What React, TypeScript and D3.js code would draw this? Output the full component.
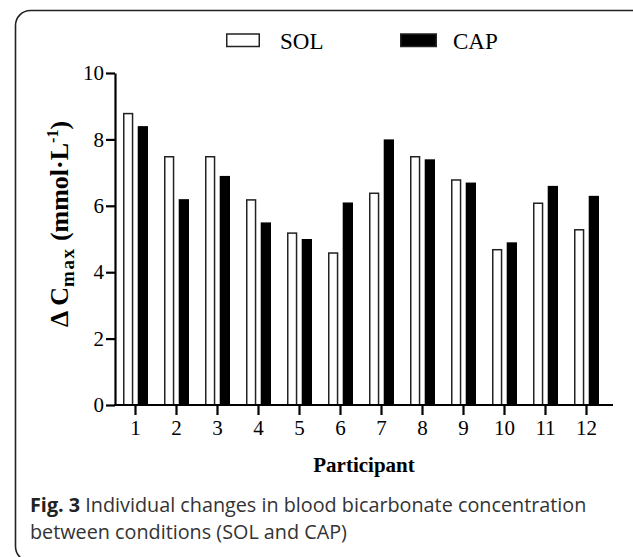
import { useEffect, useRef } from "react";
import * as d3 from "d3";

const participants = ["1", "2", "3", "4", "5", "6", "7", "8", "9", "10", "11", "12"];
const solValues = [8.8, 7.5, 7.5, 6.2, 5.2, 4.6, 6.4, 7.5, 6.8, 4.7, 6.1, 5.3];
const capValues = [8.4, 6.2, 6.9, 5.5, 5.0, 6.1, 8.0, 7.4, 6.7, 4.9, 6.6, 6.3];
const seriesNames = ["SOL", "CAP"];
const yTicks = [0, 2, 4, 6, 8, 10];

const serif = "'Liberation Serif', 'Times New Roman', serif";
const sans = "'Open Sans', 'Noto Sans', sans-serif";

export default function App() {
  const ref = useRef<SVGSVGElement>(null);

  useEffect(() => {
    const svg = d3.select(ref.current!);
    svg.selectAll("*").remove();

    const w = 633,
      h = 557,
      m = { top: 73, right: 26, bottom: 152, left: 115 };

    // frame
    svg
      .append("rect")
      .attr("x", 15.5)
      .attr("y", 10.5)
      .attr("width", 650)
      .attr("height", 551)
      .attr("rx", 15)
      .attr("fill", "#fff")
      .attr("stroke", "#222")
      .attr("stroke-width", 1.6);

    const x = d3
      .scaleBand<string>()
      .domain(participants)
      .range([m.left, m.left + 41 * 12])
      .padding(0);

    const sub = d3.scaleBand<string>().domain(seriesNames).range([8, 33]).paddingInner(0.3);

    const y = d3.scaleLinear().domain([0, 10]).range([h - m.bottom, m.top]);

    /* ── BARS ─────────────────────────────── */
    const g = svg.append("g");
    participants.forEach((p, i) => {
      const vals = [solValues[i], capValues[i]];
      seriesNames.forEach((s, j) => {
        const x0 = x(p)! + sub(s)!;
        const top = y(vals[j]);
        g.append("rect")
          .attr("x", x0 + (j === 0 ? 0.75 : 0))
          .attr("y", top + (j === 0 ? 0.75 : 0))
          .attr("width", sub.bandwidth() - (j === 0 ? 1.5 : 0))
          .attr("height", y(0) - top - (j === 0 ? 0.75 : 0))
          .attr("fill", j === 0 ? "#fff" : "#000")
          .attr("stroke", j === 0 ? "#222" : "none")
          .attr("stroke-width", 1.5);
      });
    });

    /* ── AXES ─────────────────────────────── */
    const yAxis = svg
      .append("g")
      .attr("transform", `translate(${m.left},0)`)
      .call(d3.axisLeft(y).tickValues(yTicks).tickSize(9).tickSizeOuter(0).tickPadding(2));
    yAxis.select(".domain").attr("stroke-width", 2.2);
    yAxis.selectAll(".tick line").attr("stroke-width", 2.2);
    yAxis
      .selectAll(".tick text")
      .attr("font-family", serif)
      .attr("font-size", 21)
      .attr("fill", "#000");

    const xAxis = svg
      .append("g")
      .attr("transform", `translate(0,${y(0)})`)
      .call(d3.axisBottom(x).tickSize(10).tickSizeOuter(0).tickPadding(5));
    xAxis.select(".domain").remove();
    xAxis.selectAll(".tick line").attr("stroke-width", 2.2);
    xAxis
      .selectAll(".tick text")
      .attr("font-family", serif)
      .attr("font-size", 21)
      .attr("fill", "#000");
    xAxis
      .append("line")
      .attr("x1", m.left - 1)
      .attr("x2", 613)
      .attr("stroke", "#000")
      .attr("stroke-width", 2.2);

    // x title
    svg
      .append("text")
      .attr("x", (m.left + 613) / 2)
      .attr("y", 472)
      .attr("text-anchor", "middle")
      .attr("font-family", serif)
      .attr("font-weight", "bold")
      .attr("font-size", 21)
      .text("Participant");

    // y title
    const yt = svg
      .append("text")
      .attr("transform", `translate(68,224) rotate(-90)`)
      .attr("text-anchor", "middle")
      .attr("font-family", serif)
      .attr("font-weight", "bold")
      .attr("font-size", 26);
    yt.append("tspan").text("Δ C");
    yt.append("tspan").attr("font-size", 19).attr("dy", 6).attr("letter-spacing", 1.5).text("max");
    yt.append("tspan").attr("dy", -6).text(" (mmol·L");
    yt.append("tspan").attr("font-size", 16).attr("dy", -10).text("-1");
    yt.append("tspan").attr("dy", 10).text(")");

    /* ── LEGEND ───────────────────────────── */
    const legend = [
      { name: seriesNames[0], bx: 226, bw: 34, tx: 280, fill: "#fff" },
      { name: seriesNames[1], bx: 400, bw: 37, tx: 453, fill: "#000" },
    ];
    legend.forEach((l) => {
      svg
        .append("rect")
        .attr("x", l.bx + 0.75)
        .attr("y", 34)
        .attr("width", l.bw - 1.5)
        .attr("height", 12.5)
        .attr("fill", l.fill)
        .attr("stroke", "#222")
        .attr("stroke-width", 1.5);
      svg
        .append("text")
        .attr("x", l.tx)
        .attr("y", 49)
        .attr("font-family", serif)
        .attr("font-size", 23)
        .text(l.name);
    });

    /* ── CAPTION ──────────────────────────── */
    const c1 = svg
      .append("text")
      .attr("x", 30)
      .attr("y", 512)
      .attr("font-family", sans)
      .attr("font-size", 19.8)
      .attr("fill", "#333");
    c1.append("tspan").attr("font-weight", "bold").attr("fill", "#222").text("Fig. 3");
    c1.append("tspan").text(" Individual changes in blood bicarbonate concentration");

    svg
      .append("text")
      .attr("x", 30)
      .attr("y", 539)
      .attr("font-family", sans)
      .attr("font-size", 19.8)
      .attr("fill", "#333")
      .text("between conditions (SOL and CAP)");
  }, []);

  return (
    <svg
      ref={ref}
      width={633}
      height={557}
      style={{ position: "absolute", left: 0, top: 0, background: "#fff" }}
    />
  );
}
